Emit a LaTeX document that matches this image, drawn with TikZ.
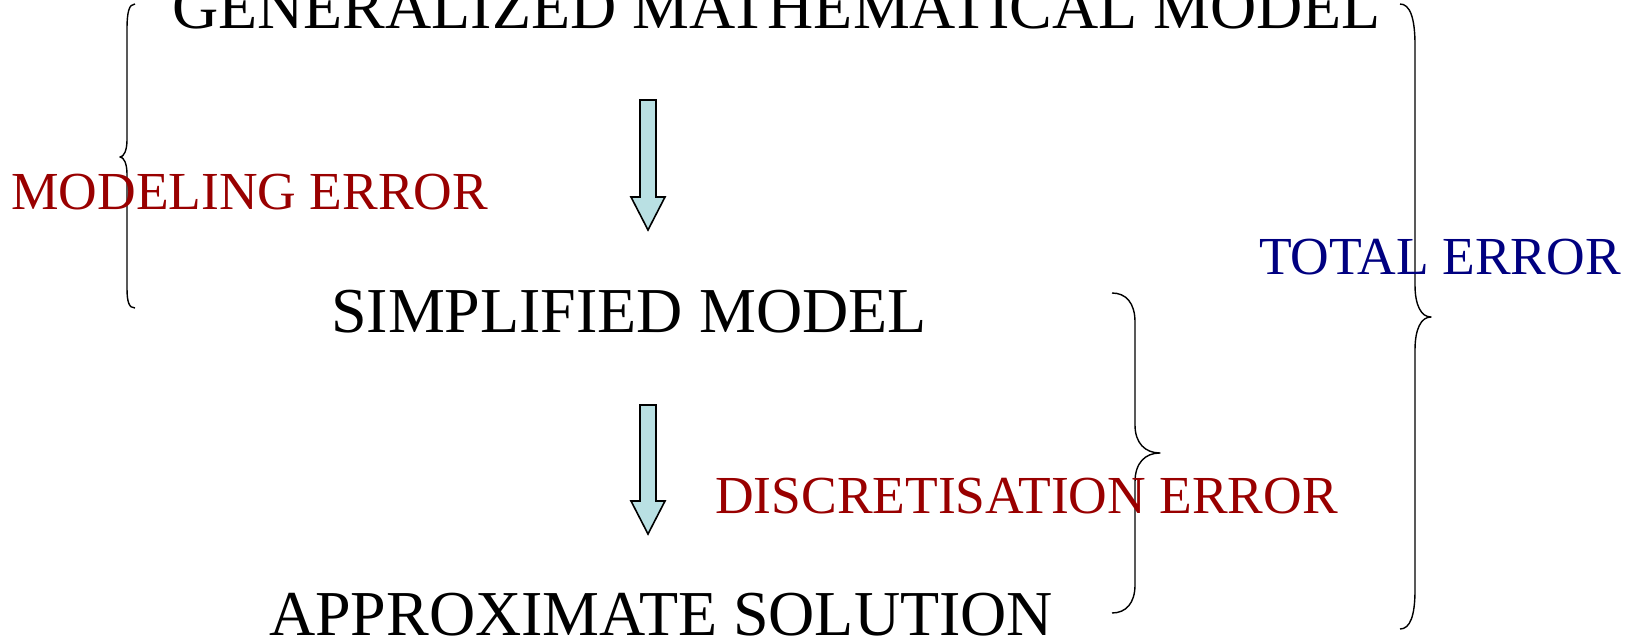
\documentclass[tikz,border=0pt]{standalone}
\usepackage{fontspec}
\setmainfont{Liberation Serif}
\definecolor{errred}{RGB}{153,0,0}
\definecolor{errblue}{RGB}{0,0,128}
\definecolor{arrowfill}{RGB}{185,224,227}
\tikzset{
  bigtext/.style={inner sep=0pt, anchor=base west, font=\fontsize{64}{70}\selectfont},
  errtext/.style={inner sep=0pt, anchor=base west, font=\fontsize{53.5}{60}\selectfont},
  bracestyle/.style={draw=black, line width=1.4pt, line join=round},
  blockarrow/.style={draw=black, line width=1.6pt, fill=arrowfill, line join=miter}
}
\begin{document}
\begin{tikzpicture}[x=1pt,y=-1pt]
\useasboundingbox (0,0) rectangle (1633,639);
% texts
\node[bigtext] (gen) at (172,29) {GENERALIZED MATHEMATICAL MODEL};
\node[bigtext] (simp) at (331,332) {SIMPLIFIED MODEL};
\node[bigtext] (appr) at (269,635) {APPROXIMATE SOLUTION};
% left brace (modeling error)
\draw[bracestyle] (135,4) .. controls (129,4) and (127,12) .. (127,30)
  -- (127,140) .. controls (127,150) and (124,157) .. (120,157)
  .. controls (124,157) and (127,164) .. (127,174)
  -- (127,288) .. controls (127,302) and (129,308) .. (135,308);
% big right brace (total error)
\draw[bracestyle] (1400,4) .. controls (1410,4) and (1415,18) .. (1415,45)
  -- (1415,285) .. controls (1415,305) and (1421,317) .. (1431,317)
  .. controls (1421,317) and (1415,329) .. (1415,350)
  -- (1415,590) .. controls (1415,616) and (1410,629) .. (1400,629);
% small right brace (discretisation error)
\draw[bracestyle] (1112,293) .. controls (1126,293) and (1135,303) .. (1135,322)
  -- (1135,425) .. controls (1135,443) and (1145,453) .. (1160,453)
  .. controls (1145,453) and (1135,463) .. (1135,482)
  -- (1135,585) .. controls (1135,603) and (1126,613) .. (1112,613);
% block arrows
\draw[blockarrow] (640,100) -- (656,100) -- (656,197) -- (665,197) -- (648,230)
  -- (631,197) -- (640,197) -- cycle;
\draw[blockarrow] (640,405) -- (656,405) -- (656,501) -- (665,501) -- (648,534)
  -- (631,501) -- (640,501) -- cycle;
% error labels
\node[errtext, text=errred] (model) at (11,210) {MODELING ERROR};
\node[errtext, text=errblue] (total) at (1259,274) {TOTAL ERROR};
\node[errtext, text=errred] (disc) at (715,513) {DISCRETISATION ERROR};
\end{tikzpicture}
\end{document}
